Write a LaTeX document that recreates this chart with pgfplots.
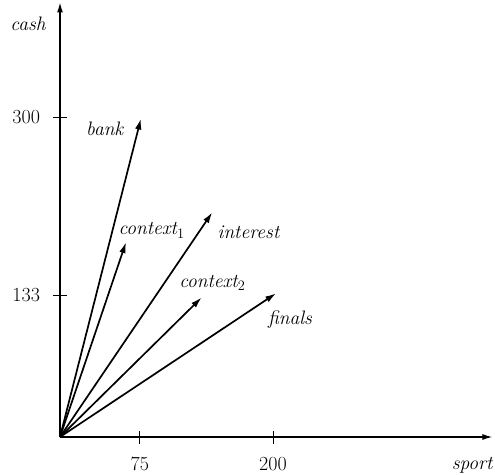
\documentclass[border=0pt]{standalone}
\usepackage{pgfplots}
\pgfplotsset{compat=1.18}
\usetikzlibrary{arrows.meta}
\begin{document}
\begin{tikzpicture}
\path[use as bounding box] (-60pt,-37pt) rectangle (435pt,437pt);
\begin{axis}[
  at={(0pt,0pt)}, anchor=origin,
  x=1.065pt, y=1.065pt,
  xmin=0, xmax=406, ymin=0, ymax=408,
  axis lines=left,
  axis line style={line width=1.3pt, -{Latex[length=10pt,width=6pt]}},
  clip=false,
  xtick={75,200}, xticklabels={75,200},
  ytick={133,300}, yticklabels={133,300},
  tick align=center, major tick length=13pt,
  tick style={line width=0.9pt, black},
  ticklabel style={font=\fontsize{20}{23}\selectfont},
  xticklabel style={yshift=-10pt},
  yticklabel style={xshift=-10pt},
]
\addplot[line width=1.7pt, -{Latex[length=11pt,width=6.5pt]}] coordinates {(0,0) (76,299)};
\addplot[line width=1.7pt, -{Latex[length=11pt,width=6.5pt]}] coordinates {(0,0) (62,183)};
\addplot[line width=1.7pt, -{Latex[length=11pt,width=6.5pt]}] coordinates {(0,0) (143,211)};
\addplot[line width=1.7pt, -{Latex[length=11pt,width=6.5pt]}] coordinates {(0,0) (133,131)};
\addplot[line width=1.7pt, -{Latex[length=11pt,width=6.5pt]}] coordinates {(0,0) (203,135)};
\begin{scope}[every node/.style={font=\fontsize{19.5}{22}\selectfont\itshape, inner sep=0pt}]
\node at (axis cs:-30,388) {cash};
\node at (axis cs:42,289) {bank};
\node at (axis cs:86,194) {context$_1$};
\node at (axis cs:177,192) {interest};
\node at (axis cs:143,145) {context$_2$};
\node at (axis cs:216,110) {finals};
\node at (axis cs:387,-27) {sport};
\end{scope}
\end{axis}
\end{tikzpicture}
\end{document}
